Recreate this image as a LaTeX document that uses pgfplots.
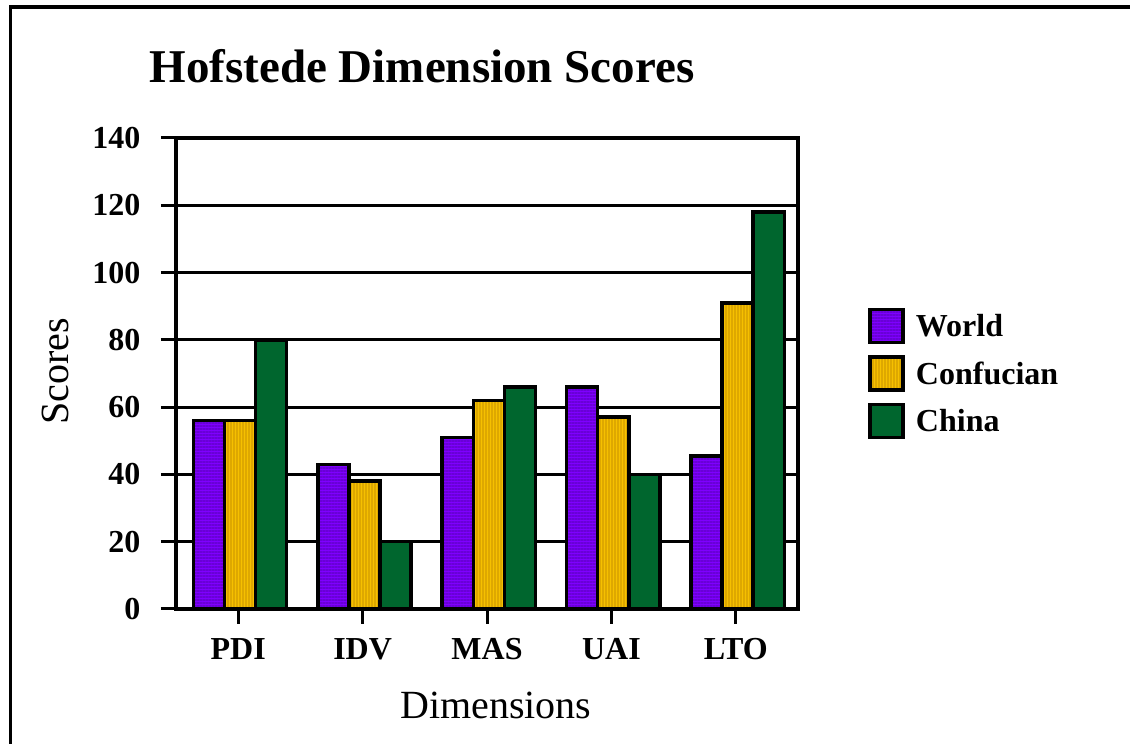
\documentclass[border=0pt]{standalone}
\usepackage{fontspec}
\setmainfont{Liberation Serif}
\usepackage{pgfplots}
\pgfplotsset{compat=1.18}
\usetikzlibrary{patterns.meta}
\definecolor{world}{RGB}{127,0,255}
\definecolor{worldline}{RGB}{105,0,215}
\definecolor{conf}{RGB}{246,192,0}
\definecolor{confline}{RGB}{222,168,0}
\definecolor{china}{RGB}{0,102,46}
\begin{document}
\begin{tikzpicture}[x=1pt,y=1pt]
\path[use as bounding box] (0,0) rectangle (1130,744);
\draw[line width=3.5pt] (10.5,0) -- (10.5,737) -- (1130,737);
\begin{axis}[
  at={(176pt,135pt)}, anchor=south west,
  scale only axis, width=622pt, height=471pt,
  xmin=-0.5, xmax=4.5, ymin=0, ymax=140,
  ytick={0,20,...,140},
  xtick={0,...,4}, xticklabels={PDI,IDV,MAS,UAI,LTO},
  tick pos=left,
  ymajorgrids, grid style={black, line width=3pt},
  axis line style={line width=3.5pt},
  tick style={black, line width=3pt},
  major tick length=15pt,
  tick align=outside,
  /pgf/number format/assume math mode=true,
  ticklabel style={font=\fontsize{32}{32}\selectfont\bfseries},
  yticklabel style={xshift=-17pt},
  xticklabel style={yshift=-11pt},
  ylabel={Scores}, xlabel={Dimensions},
  label style={font=\fontsize{40}{40}\selectfont},
  ylabel style={at={(axis description cs:-0.1945,0.505)}, anchor=center},
  xlabel style={at={(axis description cs:0.514,-0.2335)}, anchor=base},
  title={Hofstede Dimension Scores},
  title style={font=\fontsize{47}{47}\selectfont\bfseries, at={(axis description cs:-0.048,1.106)}, anchor=base west},
  ybar, bar width=0.25,
  legend style={at={(axis description cs:1.113,0.64)}, anchor=north west, draw=none, fill=none,
    font=\fontsize{32}{32}\selectfont\bfseries, row sep=11pt, inner sep=0pt,
    nodes={inner sep=3pt}},
  legend cell align=left,
  legend image code/.code={\draw[#1, line width=3.5pt] (0pt,-16.5pt) rectangle (33pt,16.5pt);},
]
\addplot[fill=world, draw=black, line width=3.5pt, bar shift=-0.235,
  postaction={pattern={Lines[angle=0,distance=3pt,line width=1.2pt]}, pattern color=worldline}]
  coordinates {(0,56) (1,43) (2,51) (3,66) (4,45.5)};
\addplot[fill=conf, draw=black, line width=3.5pt, bar shift=0.015,
  postaction={pattern={Lines[angle=90,distance=3pt,line width=1.2pt]}, pattern color=confline}]
  coordinates {(0,56) (1,38) (2,62) (3,57) (4,91)};
\addplot[fill=china, draw=black, line width=3.5pt, bar shift=0.265]
  coordinates {(0,80) (1,20) (2,66) (3,40) (4,118)};
\addlegendentry{\hspace{8pt}World}
\addlegendentry{\hspace{8pt}Confucian}
\addlegendentry{\hspace{8pt}China}
\end{axis}
\end{tikzpicture}
\end{document}
